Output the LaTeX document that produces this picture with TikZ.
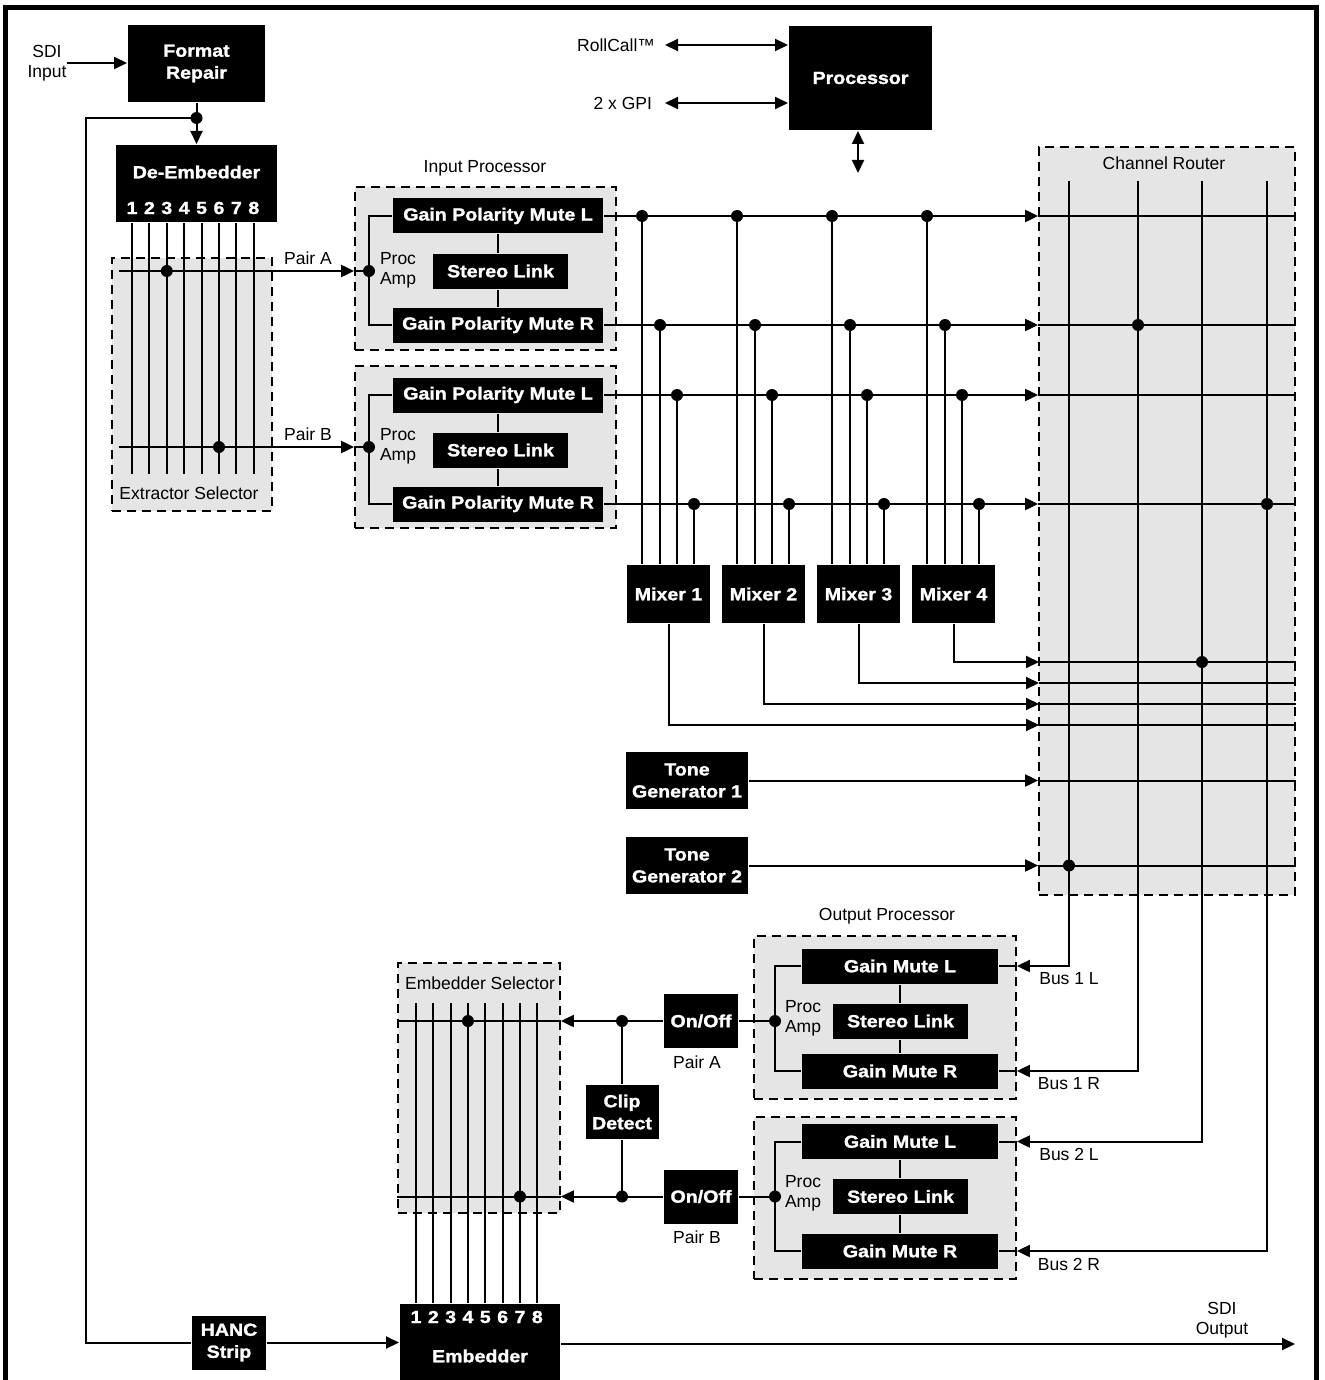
\documentclass[tikz,border=0pt]{standalone}
\usepackage{fontspec}
\setmainfont{Liberation Sans}
\newfontfamily\blkfont[FakeStretch=1.12, FakeBold=1.4]{Liberation Sans}
\usetikzlibrary{arrows.meta, calc}

\begin{document}
\begin{tikzpicture}[x=1pt, y=-1pt, line width=2pt, >={Triangle[length=13pt,width=12pt]},
    blk/.style={fill=black, text=white, font=\blkfont\bfseries\fontsize{17.5}{22}\selectfont, align=center, inner sep=0pt},
    grp/.style={draw, fill=black!10, dash pattern=on 9pt off 6pt, line width=1.8pt},
    lbl/.style={font=\fontsize{17.5}{20}\selectfont, align=center, inner sep=0pt}]
    \useasboundingbox (0,0) rectangle (1324,1380);

    % frame
    \draw[line width=5pt] (5.5,1420) -- (5.5,7.5) -- (1316.5,7.5) -- (1316.5,1420);

    % groups
    \node[grp, minimum width=160pt, minimum height=253pt] (extsel) at (192,384.5) {};
    \node[grp, minimum width=261pt, minimum height=163pt] (ipA) at (485.5,268.5) {};
    \node[grp, minimum width=261pt, minimum height=162pt] (ipB) at (485.5,447) {};
    \node[grp, minimum width=256pt, minimum height=748pt] (router) at (1167,521) {};
    \node[grp, minimum width=262pt, minimum height=163pt] (opA) at (885,1017.5) {};
    \node[grp, minimum width=262pt, minimum height=162pt] (opB) at (885,1198) {};
    \node[grp, minimum width=162pt, minimum height=250pt] (embsel) at (479,1088) {};
    \node[lbl] (extlbl) at (189,493) {Extractor Selector};
    \node[lbl] (iplbl) at (485,168) {Input Processor};
    \node[lbl] (rtlbl) at (1164,163) {Channel Router};
    \node[lbl] (oplbl) at (887,916) {Output Processor};
    \node[lbl] (eslbl) at (480,983) {Embedder Selector};

    % input and de-embedder
    \node[lbl] (sdiin) at (47,63) {SDI\\Input};
    \node[blk, minimum width=137pt, minimum height=77pt] (fmt) at (196.5,63.5) {Format\\Repair};
    \node[blk, minimum width=161pt, minimum height=77pt] (deemb) at (196.5,183.5) {};
    \node[blk] (deembtxt) at (196.5,172) {De-Embedder};
    \draw[->] (sdiin.east) -- (sdiin.east -| fmt.west);
    \coordinate (jt) at (196.5,118);
    \draw (fmt.south) -- (jt);
    \draw[->] (jt) -- (deemb.north);
    \fill (jt) circle (6pt);
    \foreach \i in {1,...,8} {
        \node[blk] (dch\i) at ({132+17.4*(\i-1)},208) {\i};
        \draw (dch\i |- deemb.south) -- ++(0,251);
    }

    % processor
    \node[blk, minimum width=143pt, minimum height=104pt] (proc) at (860.5,78) {Processor};
    \node[lbl, anchor=east] (rollcall) at (656,45) {RollCall™};
    \node[lbl, anchor=east] (gpi) at (653,103) {2 x GPI};
    \draw[<->] ([xshift=9pt]rollcall.east) -- (rollcall.east -| proc.west);
    \draw[<->] ([xshift=12pt]gpi.east) -- (gpi.east -| proc.west);
    \coordinate (ctl) at (858,173);
    \draw[<->] (proc.south -| ctl) -- (ctl);

    % input processor
    \foreach \p/\dy/\dz in {A/0/0, B/179/176} {
        \node[blk, minimum width=210pt, minimum height=35pt] (gpl\p) at (498,{216+\dy}) {Gain Polarity Mute L};
        \node[blk, minimum width=135pt, minimum height=35pt] (sl\p) at (500.5,{271+\dy}) {Stereo Link};
        \node[blk, minimum width=210pt, minimum height=35pt] (gpr\p) at (498,{325+\dy}) {Gain Polarity Mute R};
        \draw (gpl\p.south) -- (gpl\p.south |- sl\p.north);
        \draw (gpr\p.north) -- (gpr\p.north |- sl\p.south);
        \coordinate (pa\p) at (369,{271+\dz});
        \draw (gpl\p.west) -| (pa\p) |- (gpr\p.west);
        \fill (pa\p) circle (6pt);
        \node[lbl] (pamp\p) at (398,{270.5+\dz}) {Proc\\Amp};
        \coordinate (pair\p) at (119,{271+\dz});
        \draw[->] (pair\p) -- (pair\p -| ip\p.west);
        \draw (pair\p -| ip\p.west) -- (pa\p);
        \node[lbl] (pairlbl\p) at (308,{258+\dz}) {Pair \p};
    }
    \fill (dch3 |- pairA) circle (6pt);
    \fill (dch6 |- pairB) circle (6pt);

    % rows into the router
    \foreach \r in {gplA, gprA, gplB, gprB} {
        \draw[->] (\r.east) -- (\r.east -| router.west);
        \draw (\r.east -| router.west) -- (\r.east -| router.east);
    }

    % mixers
    \foreach \k in {1,...,4} {
        \node[blk, minimum width=83pt, minimum height=58pt] (mix\k) at ({668.5+95*(\k-1)},594) {Mixer \k};
        \foreach \r/\dx in {gplA/-26.5, gprA/-8.5, gplB/8.5, gprB/25.5} {
            \draw ($(mix\k.north)+(\dx,0)$) coordinate (tap) -- (tap |- \r.east);
            \fill (tap |- \r.east) circle (6pt);
        }
        \coordinate (mo\k) at (1039,{662+21*(4-\k)});
        \draw[->] (mix\k.south) |- (mo\k);
        \draw (mo\k) -- (mo\k -| router.east);
    }

    % tone generators
    \node[blk, minimum width=122pt, minimum height=57pt] (tone1) at (687,780.5) {Tone\\Generator 1};
    \node[blk, minimum width=122pt, minimum height=57pt] (tone2) at (687,865.5) {Tone\\Generator 2};
    \foreach \t in {tone1, tone2} {
        \draw[->] (\t.east) -- (\t.east -| router.west);
        \draw (\t.east -| router.west) -- (\t.east -| router.east);
    }

    % router columns
    \coordinate (col1) at (1069,181);
    \coordinate (col2) at (1138,181);
    \coordinate (col3) at (1202,181);
    \coordinate (col4) at (1267,181);
    \fill (col2 |- gprA.east) circle (6pt);
    \fill (col4 |- gprB.east) circle (6pt);
    \fill (col3 |- mo4) circle (6pt);
    \fill (col1 |- tone2.east) circle (6pt);

    % output processor
    \node[blk, minimum width=73pt, minimum height=54pt] (clip) at (622,1112) {Clip\\Detect};
    \foreach \p/\ya/\yb/\yc in {A/966/1021/1071, B/1141.5/1196.5/1251} {
        \node[blk, minimum width=196pt, minimum height=35pt] (gml\p) at (900,\ya) {Gain Mute L};
        \node[blk, minimum width=135pt, minimum height=35pt] (osl\p) at (900.5,\yb) {Stereo Link};
        \node[blk, minimum width=196pt, minimum height=35pt] (gmr\p) at (900,\yc) {Gain Mute R};
        \draw (gml\p.south) -- (gml\p.south |- osl\p.north);
        \draw (gmr\p.north) -- (gmr\p.north |- osl\p.south);
        \coordinate (opa\p) at (775,\yb);
        \draw (gml\p.west) -| (opa\p) |- (gmr\p.west);
        \fill (opa\p) circle (6pt);
        \node[lbl] (opamp\p) at (803,{\yb-3}) {Proc\\Amp};
        \node[blk, minimum width=74pt, minimum height=54pt] (onoff\p) at (701,\yb) {On/Off};
        \node[lbl] (pairout\p) at (697,{\yb+41}) {Pair \p};
        \draw (opa\p) -- (onoff\p.east);
        \draw[->] (onoff\p.west) -- (onoff\p.west -| embsel.east);
        \draw (onoff\p.west -| embsel.east) -- (onoff\p.west -| embsel.west);
        \fill (clip.center |- onoff\p.west) circle (6pt);
    }
    \draw (clip.north) -- (clip.north |- onoffA.west);
    \draw (clip.south) -- (clip.south |- onoffB.west);

    % buses back from the router
    \foreach \c/\b/\t in {col1/gmlA/Bus 1 L, col2/gmrA/Bus 1 R, col3/gmlB/Bus 2 L, col4/gmrB/Bus 2 R} {
        \draw[->] (\c) |- (\b.east -| opA.east);
        \draw (\b.east) -- (\b.east -| opA.east);
        \node[lbl] at ($(\b.east -| col1)+(0,13)$) {\t};
    }

    % embedder
    \node[blk, minimum width=160pt, minimum height=104pt] (emb) at (480,1356) {Embedder};
    \foreach \i in {1,...,8} {
        \node[blk] (ech\i) at ({416+17.33*(\i-1)},1317) {\i};
        \draw (ech\i |- 0,1003) -- (ech\i |- emb.north);
    }
    \fill (ech4 |- onoffA.west) circle (6pt);
    \fill (ech7 |- onoffB.west) circle (6pt);

    % HANC loop and output
    \node[blk, minimum width=74pt, minimum height=54pt] (hanc) at (229,1342.5) {HANC\\Strip};
    \coordinate (lp) at (86,1342.5);
    \draw (jt) -| (lp) -- (hanc.west);
    \draw[->] (hanc.east) -- (hanc.east -| emb.west);
    \node[lbl] (sdiout) at (1222,1320) {SDI\\Output};
    \coordinate (outend) at (1295,1344);
    \draw[->] (emb.east |- outend) -- (outend);
\end{tikzpicture}
\end{document}
